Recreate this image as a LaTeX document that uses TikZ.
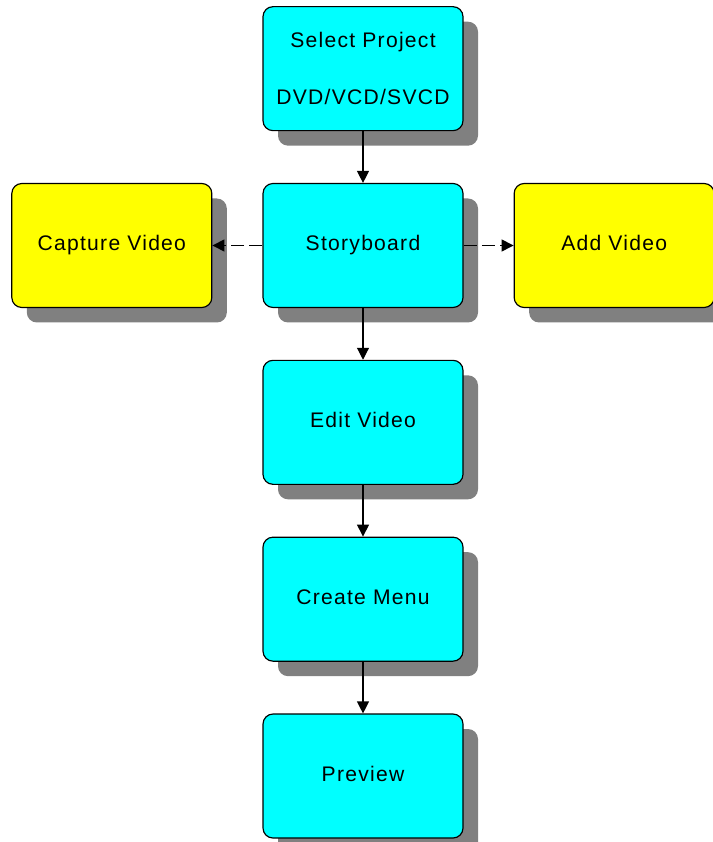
\documentclass[tikz,border=0pt]{standalone}
\usepackage{fontspec}
\setmainfont{Liberation Sans}[LetterSpace=6]
\usepackage{xcolor}
\usetikzlibrary{arrows.meta, positioning, shadows}

\definecolor{stagecyan}{RGB}{0,255,255}
\definecolor{stageyellow}{RGB}{255,255,0}

\tikzset{
  stage/.style={draw=black, line width=1pt, rounded corners=0.3cm,
    minimum width=6cm, minimum height=3.72cm, align=center,
    font=\fontsize{18}{22}\selectfont,
    drop shadow={shadow xshift=0.45cm, shadow yshift=-0.45cm,
      fill=black!50, opacity=1}},
  oneline/.style={text height=13pt, text depth=4pt},
  mainstage/.style={stage, oneline, fill=stagecyan},
  sidestage/.style={stage, oneline, fill=stageyellow},
  flow/.style={line width=1pt, -{Triangle[length=0.36cm, width=0.36cm]}},
  sideflow/.style={flow, dash pattern=on 0.4cm off 0.15cm}
}

\begin{document}
\begin{tikzpicture}[node distance=1.55cm and 1.5cm]

\useasboundingbox (0,0) rectangle (21.36,25.26);

% ========== main column ==========
\node[stage, fill=stagecyan] (select) at (10.89,23.2) {Select Project\\[27pt]DVD/VCD/SVCD};
\node[mainstage, below=of select] (storyboard) {Storyboard};
\node[mainstage, below=of storyboard] (edit) {Edit Video};
\node[mainstage, below=of edit] (menu) {Create Menu};
\node[mainstage, below=of menu] (preview) {Preview};

% ========== side boxes ==========
\node[sidestage, left=of storyboard] (capture) {Capture Video};
\node[sidestage, right=of storyboard] (addvideo) {Add Video};

% connectors
\draw[flow] (select) -- (storyboard);
\draw[flow] (storyboard) -- (edit);
\draw[flow] (edit) -- (menu);
\draw[flow] (menu) -- (preview);
\draw[sideflow] (storyboard) -- (capture);
\draw[sideflow] (storyboard) -- (addvideo);

\end{tikzpicture}
\end{document}
